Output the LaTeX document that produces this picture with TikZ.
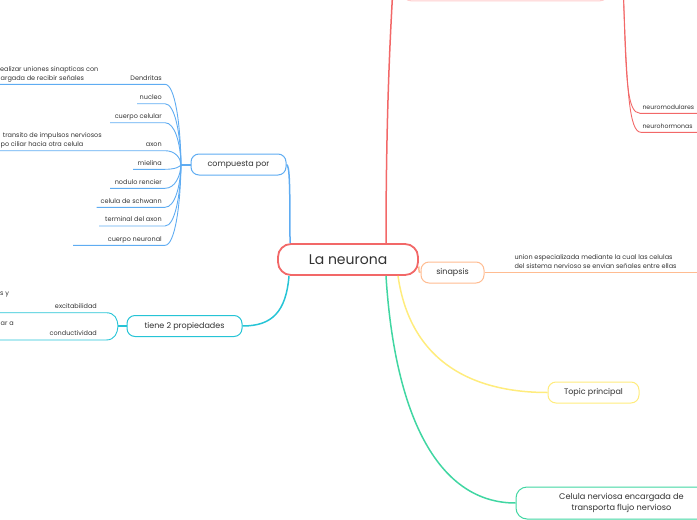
\documentclass[tikz,border=0pt]{standalone}
\usepackage{fontspec}
\setmainfont{Poppins}
\definecolor{cred}{RGB}{242,104,104}
\definecolor{cpink}{RGB}{255,205,205}
\definecolor{cblue}{RGB}{95,172,242}
\definecolor{cteal}{RGB}{38,196,214}
\definecolor{corange}{RGB}{255,188,145}
\definecolor{cyellow}{RGB}{255,236,125}
\definecolor{cgreen}{RGB}{64,214,162}
\definecolor{ctext}{RGB}{50,50,50}
\begin{document}
\begin{tikzpicture}[x=1pt,y=-1pt,
  box/.style={draw, fill=white, rounded corners=8pt, line width=1pt, inner sep=0pt, text=ctext, font=\fontsize{8}{10}\selectfont},
  lab/.style={inner sep=0pt, text=ctext, font=\fontsize{6.5}{8}\selectfont},
  sub/.style={line width=0.9pt},
  mainline/.style={line width=1.5pt}]
\useasboundingbox (0,0) rectangle (697,520);

% off-canvas node at top
\node[draw=cpink, line width=1pt, rounded corners=8pt, minimum width=205pt, minimum height=40pt, inner sep=0pt] (top) at (505.5,-19.2) {};
\coordinate (redtop) at (392.5,-4);
\coordinate (redB) at (623.5,-4);

% main nodes
\node[box, draw=cred, line width=1.8pt, rounded corners=13pt, minimum width=140pt, minimum height=31pt, font=\fontsize{14}{16}\selectfont] (root) at (348,259.5) {La neurona};
\node[box, draw=cblue, minimum width=95pt, minimum height=21pt] (comp) at (238.5,164.5) {compuesta por};
\node[box, draw=cteal, minimum width=115pt, minimum height=21pt] (tiene) at (184.5,326) {tiene 2 propiedades};
\node[box, draw=corange, minimum width=63pt, minimum height=21pt] (sin) at (452.5,272.5) {sinapsis};
\node[box, draw=cyellow, minimum width=91pt, minimum height=21pt] (topic) at (593.5,392.5) {Topic principal};
\node[box, draw=cgreen, rounded corners=11pt, minimum width=211pt, minimum height=32pt, align=center, font=\fontsize{8.2}{11.5}\selectfont] (cel) at (621.5,503) {Celula nerviosa encargada de\\transporta flujo nervioso};

% main connectors
\draw[mainline, cred] ([xshift=38pt]root.north) .. controls (386,120) and (390,40) .. (redtop);
\draw[mainline, cblue] ([xshift=-58pt]root.north) .. controls (290,180) and (289.5,166) .. (comp.east);
\draw[mainline, cteal] ([xshift=-59pt]root.south) .. controls (286,312) and (272,326) .. (tiene.east);
\draw[mainline, cyellow] ([xshift=50pt]root.south) .. controls (410,360) and (470,392.5) .. (topic.west);
\draw[mainline, cgreen] ([xshift=38pt]root.south) .. controls (395,420) and (440,503) .. (cel.west);
\draw[mainline, corange] ([yshift=-7pt]root.east) .. controls (419,272.5) .. (sin.west);

% sinapsis branch
\coordinate (sinEnd) at (700,272.5);
\draw[sub, corange] (sin.east) -- (sinEnd);
\node[lab, anchor=base west] (sx1) at (514.3,259) {union especializada mediante la cual las celulas};
\node[lab, anchor=base west] (sx2) at (514.3,268) {del sistema nervioso se envian señales entre ellas};

% red sub branches
\coordinate (nmE) at (700,113.3);
\coordinate (nhE) at (700,132.3);
\draw[sub, cred] (redB) .. controls (626,80) and (627,113.3) .. (640,113.3) -- (nmE);
\draw[sub, cred] (redB) .. controls (627,90) and (629,132.3) .. (641,132.3) -- (nhE);
\node[lab, anchor=base west, font=\fontsize{6.2}{8}\selectfont] (nm) at (642.3,109) {neuromodulares};
\node[lab, anchor=base west, font=\fontsize{6.2}{8}\selectfont] (nh) at (642.3,128.3) {neurohormonas};

% blue sub branches
\coordinate (bj) at (181,164.5);
\draw[line width=2pt, cblue] (comp.west) -- (bj);
\foreach \t/\yu/\lx [count=\i] in {Dendritas/84.3/-2, nucleo/103.7/137, cuerpo celular/122.7/110, axon/150.7/-2, mielina/169.3/133, nodulo rencier/188.3/110, celula de schwann/207.3/96.5, terminal del axon/226/99, cuerpo neuronal/245.3/73}{
  \coordinate (bl\i) at (\lx,\yu);
  \node[lab, anchor=base east] (bt\i) at (162,\yu-4.3) {\t};
  \pgfmathsetmacro\my{(\yu+164.5)/2}
  \draw[sub, cblue] (bl\i) -- (165,\yu) .. controls (175,\yu) and (180.5,\my) .. (bj);
}
\node[lab, anchor=base west] (dx1) at (0,71.8) {ealizar uniones sinapticas con};
\node[lab, anchor=base west] (dx2) at (0.5,80.3) {argada de recibir señales};
\node[lab, anchor=base west] (ax1) at (2.7,137.6) {transito de impulsos nerviosos};
\node[lab, anchor=base west] (ax2) at (0.5,146.4) {po ciliar hacia otra celula};

% teal sub branches
\coordinate (tj) at (118,326);
\draw[line width=2pt, cteal] (tiene.west) -- (tj);
\coordinate (tl1) at (-2,312.7);
\coordinate (tl2) at (-2,340);
\draw[sub, cteal] (tl1) -- (106,312.7) .. controls (115,312.7) and (117.5,319) .. (tj);
\draw[sub, cteal] (tl2) -- (106,340) .. controls (115,340) and (117.5,333) .. (tj);
\node[lab, anchor=base east] (ex) at (97,308.4) {excitabilidad};
\node[lab, anchor=base east] (co) at (97,335.7) {conductividad};
\node[lab, anchor=base west] (tx1) at (0,295.8) {s y};
\node[lab, anchor=base west] (tx2) at (0.5,325.8) {ar a};
\end{tikzpicture}
\end{document}
